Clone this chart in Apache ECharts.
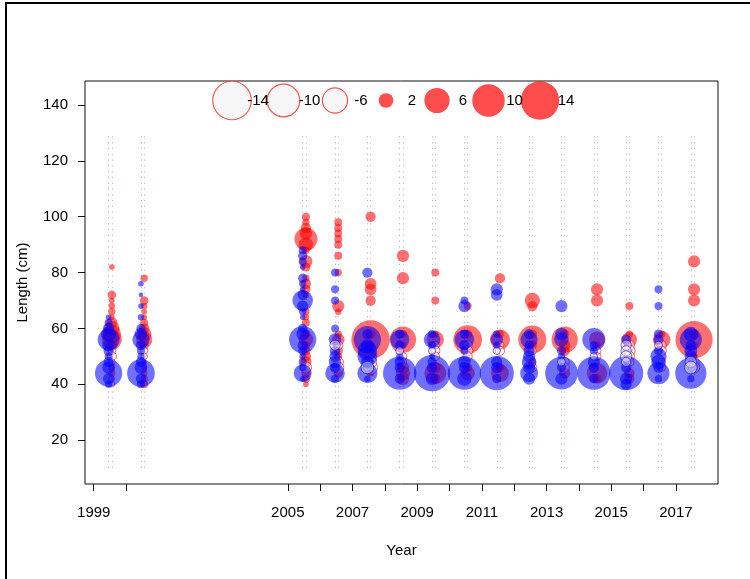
<!DOCTYPE html>
<html><head><meta charset="utf-8">
<script src="https://cdn.jsdelivr.net/npm/echarts@6/dist/echarts.min.js"></script>
<style>html,body{margin:0;padding:0;background:#fff}#c{width:750px;height:579px}</style>
</head><body><div id="c"></div>
<script>
// ---- data ----
const years = [1999, 2000, 2005, 2006, 2007, 2008, 2009, 2010, 2011, 2012, 2013, 2014, 2015, 2016, 2017];
const yTicks = [20, 40, 60, 80, 100, 120, 140];
const xTicks = [1999, 2000, 2005, 2006, 2007, 2008, 2009, 2010, 2011, 2012, 2013, 2014, 2015, 2016, 2017];
const xLabels = [1999, 2005, 2007, 2009, 2011, 2013, 2015, 2017];
const legendValues = [-14, -10, -6, 2, 6, 10, 14];
const lengthRange = [10, 130];

// [length (cm), residual] — red series
const red1999 = [[82,0.3],[72,0.7],[70,0.3],[68,0.4],[66,0.5],[64,0.3],[62,1.2],[60,2.2],[58,3.2],[56,3.8],[54,1.2],[52,-0.6],[50,-0.8],[48,-0.4],[46,0.4],[44,0.5],[42,-0.3],[40,-0.3]];
const red2000 = [[78,0.5],[70,0.7],[68,0.4],[66,0.3],[64,0.3],[62,0.6],[60,1.0],[58,2.0],[56,2.5],[54,0.8],[52,-0.5],[50,-0.4],[48,0.3],[46,0.3],[44,0.4],[42,0.5],[40,0.6]];
const red2005 = [[100,0.6],[98,0.5],[96,1.0],[94,1.5],[92,5.0],[90,2.0],[88,0.5],[84,1.6],[82,0.8],[78,0.5],[76,1.0],[74,0.8],[72,0.4],[66,0.5],[64,0.4],[62,0.6],[58,0.8],[56,2.0],[54,0.6],[52,0.8],[50,1.0],[48,1.2],[46,-1.2],[44,0.8],[42,0.6],[40,0.3]];
const red2006 = [[98,0.6],[96,0.6],[94,0.6],[92,0.6],[90,0.6],[86,0.6],[80,0.5],[68,1.4],[66,0.4],[58,0.5],[56,1.5],[54,-0.8],[52,0.8],[50,0.6],[48,-1.0],[46,-1.2],[44,0.8]];
const red2007 = [[100,1.0],[76,1.3],[74,1.3],[70,1.0],[58,1.0],[56,14.0],[54,0.6],[48,-1.4],[46,-1.8],[44,0.4]];
const red2008 = [[86,1.4],[78,1.4],[58,0.6],[56,6.5],[54,0.5],[50,-0.6],[48,-0.5],[46,1.5],[44,2.0],[42,1.5]];
const red2009 = [[80,0.6],[70,0.6],[58,0.5],[56,2.8],[54,-0.6],[52,-0.8],[50,-0.7],[46,1.2],[44,4.5],[42,1.0]];
const red2010 = [[68,0.6],[58,0.8],[56,7.8],[54,-0.8],[52,-1.0],[50,-0.8],[46,0.8],[44,2.0]];
const red2011 = [[78,1.0],[58,0.6],[56,3.8],[54,-0.6],[52,-0.8],[46,0.8],[44,3.0]];
const red2012 = [[70,2.2],[68,1.0],[58,0.8],[56,7.5],[54,0.8],[52,-0.6],[48,0.6],[46,-0.8]];
const red2013 = [[58,0.8],[56,6.5],[54,1.2],[52,1.0],[48,-0.8],[46,-0.8],[44,1.2]];
const red2014 = [[74,1.4],[70,1.4],[56,2.5],[54,0.5],[52,-0.6],[50,-0.6],[44,4.0],[42,0.8]];
const red2015 = [[68,0.6],[58,0.5],[56,2.2],[54,-1.0],[52,-1.2],[50,-1.0],[48,-0.8],[44,1.0],[42,1.0]];
const red2016 = [[58,0.5],[56,2.9],[54,-0.8],[52,-0.8],[48,-0.5],[46,-0.6]];
const red2017 = [[84,1.4],[74,1.4],[70,1.4],[58,1.0],[56,13.0],[54,0.5],[50,0.5],[48,-1.0],[46,-1.2]];

// [length (cm), residual] — blue series
const blue1999 = [[64,0.3],[62,0.6],[60,1.2],[58,2.2],[56,4.5],[54,1.5],[52,1.0],[50,0.6],[48,1.0],[46,1.5],[44,7.0],[42,1.2],[40,0.5]];
const blue2000 = [[76,0.3],[72,0.2],[68,0.3],[64,0.4],[60,0.8],[58,1.5],[56,2.8],[54,1.0],[52,0.6],[50,0.5],[48,1.0],[46,1.5],[44,7.2],[42,1.0],[40,0.6]];
const blue2005 = [[88,0.6],[86,0.8],[84,0.6],[82,0.3],[78,0.8],[76,0.5],[74,0.3],[72,1.0],[70,4.0],[68,1.2],[66,0.5],[64,0.3],[60,0.8],[58,1.5],[56,7.0],[54,1.0],[52,0.8],[50,0.4],[48,0.6],[46,0.5],[44,3.0],[42,0.3]];
const blue2006 = [[80,0.6],[74,0.6],[70,0.6],[60,0.6],[56,1.5],[54,-1.0],[52,1.0],[50,1.2],[48,1.5],[46,1.0],[44,3.6],[42,0.6]];
const blue2007 = [[80,1.0],[58,1.0],[56,7.0],[54,1.5],[52,3.6],[50,3.8],[48,1.5],[46,-1.5],[44,3.8],[42,0.4]];
const blue2008 = [[58,0.8],[56,3.5],[54,0.8],[52,-0.6],[50,0.5],[48,1.0],[46,1.0],[44,10.5],[42,1.0]];
const blue2009 = [[58,0.6],[56,2.6],[54,0.6],[52,-0.5],[50,0.3],[48,0.8],[46,1.0],[44,12.5],[42,1.5]];
const blue2010 = [[70,0.6],[68,1.4],[58,0.8],[56,3.6],[54,1.0],[52,0.6],[48,1.5],[46,1.2],[44,10.5],[42,2.0]];
const blue2011 = [[74,1.4],[72,1.3],[58,0.5],[56,1.5],[54,0.5],[52,-0.5],[48,1.2],[46,1.2],[44,11.0],[42,0.8]];
const blue2012 = [[58,1.0],[56,2.8],[54,0.8],[52,1.2],[50,1.4],[48,2.0],[46,1.4],[44,3.0],[42,1.4]];
const blue2013 = [[68,1.4],[58,1.5],[56,2.0],[52,0.8],[50,0.5],[48,-0.6],[46,0.8],[44,10.0],[42,1.4]];
const blue2014 = [[56,5.0],[54,0.6],[52,0.6],[50,-0.5],[48,1.4],[46,1.0],[44,10.5],[42,0.8]];
const blue2015 = [[56,1.0],[54,-1.0],[52,-1.0],[50,-1.2],[48,-0.8],[46,1.0],[44,11.0],[42,1.4],[40,1.2]];
const blue2016 = [[74,0.6],[68,0.6],[58,0.8],[56,1.0],[54,-0.6],[52,0.8],[50,2.5],[48,2.0],[46,1.0],[44,4.6],[42,0.5]];
const blue2017 = [[58,2.0],[56,4.6],[54,1.0],[52,1.6],[50,1.5],[48,-1.2],[46,-1.5],[44,9.2],[42,0.5]];

const redByYear = [red1999, red2000, red2005, red2006, red2007, red2008, red2009, red2010, red2011, red2012, red2013, red2014, red2015, red2016, red2017];
const blueByYear = [blue1999, blue2000, blue2005, blue2006, blue2007, blue2008, blue2009, blue2010, blue2011, blue2012, blue2013, blue2014, blue2015, blue2016, blue2017];

// ---- drawing ----
const RED_OFF = 0.56, BLUE_OFF = 0.46;
const K = 10.3;
const sizeOf = v => K * Math.sqrt(Math.abs(v));
const FONT = 'Liberation Sans, Arial, sans-serif';

function build(byYear, off, positive) {
  const out = [];
  byYear.forEach((arr, i) => {
    arr.forEach(([len, v]) => {
      if ((v > 0) === positive) out.push([years[i] + off, len, v]);
    });
  });
  return out;
}
function guide(off) {
  return years.map(y => ({ coords: [[y + off, lengthRange[0]], [y + off, lengthRange[1]]] }));
}

const RED = 'rgba(255,0,0,0.7)';
const BLUE = 'rgba(0,0,255,0.7)';
const NEGFILL = 'rgba(245,245,245,0.55)';

const chart = echarts.init(document.getElementById('c'), null, { renderer: 'canvas' });

const legendX = [232, 283.5, 335, 386, 437, 488.5, 540];
const legendY = 100.5;
const legendGraphics = [];
legendValues.forEach((v, i) => {
  const r = sizeOf(v) / 2;
  legendGraphics.push({
    type: 'circle', shape: { cx: legendX[i], cy: legendY, r: r }, z: 100,
    style: v < 0 ? { fill: '#f7f7f7', stroke: 'rgba(235,60,60,0.85)', lineWidth: 1.2 } : { fill: RED, stroke: null }
  });
});
legendValues.forEach((v, i) => {
  legendGraphics.push({
    type: 'text', x: legendX[i] + 26, y: legendY, z: 101,
    style: { text: String(v), fill: '#000', font: '15px ' + FONT, textAlign: 'center', textVerticalAlign: 'middle' }
  });
});

chart.setOption({
  animation: false,
  backgroundColor: '#fff',
  grid: { left: 85, right: 32, top: 81, bottom: 95, show: true, borderColor: '#111', borderWidth: 1, backgroundColor: 'transparent' },
  xAxis: {
    type: 'value', min: 1998.73, max: 2018.30,
    name: 'Year', nameLocation: 'middle', nameGap: 59,
    nameTextStyle: { fontFamily: FONT, fontSize: 15, color: '#000' },
    axisLine: { show: false },
    splitLine: { show: false },
    axisTick: { show: true, length: 7, lineStyle: { color: '#111' }, customValues: xTicks },
    axisLabel: { show: true, margin: 21, fontFamily: FONT, fontSize: 15, color: '#000', customValues: xLabels, formatter: v => String(v) }
  },
  yAxis: {
    type: 'value', min: 4.3, max: 148.6,
    name: 'Length (cm)', nameLocation: 'middle', nameGap: 55, nameRotate: 90,
    nameTextStyle: { fontFamily: FONT, fontSize: 15, color: '#000' },
    axisLine: { show: false },
    splitLine: { show: false },
    axisTick: { show: true, length: 7, lineStyle: { color: '#111' }, customValues: yTicks },
    axisLabel: { show: true, margin: 17, fontFamily: FONT, fontSize: 15, color: '#000', customValues: yTicks, formatter: v => String(v) }
  },
  graphic: [
    { type: 'rect', shape: { x: 6, y: 3, width: 800, height: 700 }, style: { fill: null, stroke: '#000', lineWidth: 2 }, z: 200, silent: true }
  ].concat(legendGraphics),
  series: [
    { type: 'lines', coordinateSystem: 'cartesian2d', z: 1, silent: true, data: guide(BLUE_OFF),
      lineStyle: { color: 'rgba(40,40,255,0.75)', width: 1, type: [1.3, 4.5] } },
    { type: 'lines', coordinateSystem: 'cartesian2d', z: 1, silent: true, data: guide(RED_OFF),
      lineStyle: { color: 'rgba(255,40,40,0.75)', width: 1, type: [1.3, 4.5] } },
    { type: 'scatter', z: 2, data: build(redByYear, RED_OFF, true), symbol: 'circle',
      symbolSize: d => sizeOf(d[2]), itemStyle: { color: RED, borderWidth: 0 } },
    { type: 'scatter', z: 3, data: build(redByYear, RED_OFF, false), symbol: 'circle',
      symbolSize: d => sizeOf(d[2]), itemStyle: { color: NEGFILL, borderColor: 'rgba(255,0,0,0.75)', borderWidth: 1 } },
    { type: 'scatter', z: 4, data: build(blueByYear, BLUE_OFF, true), symbol: 'circle',
      symbolSize: d => sizeOf(d[2]), itemStyle: { color: BLUE, borderWidth: 0 } },
    { type: 'scatter', z: 5, data: build(blueByYear, BLUE_OFF, false), symbol: 'circle',
      symbolSize: d => sizeOf(d[2]), itemStyle: { color: NEGFILL, borderColor: 'rgba(0,0,255,0.75)', borderWidth: 1 } }
  ]
});
</script>
</body></html>
